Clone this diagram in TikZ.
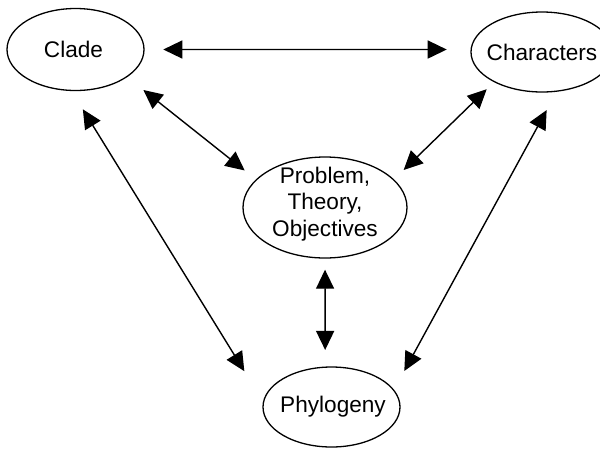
\documentclass[tikz,border=0pt]{standalone}
\usepackage{fontspec}
\setmainfont{Liberation Sans}
\usetikzlibrary{shapes.geometric,arrows.meta}
\begin{document}
\begin{tikzpicture}[x=1pt,y=-1pt,
  blob/.style={draw, ellipse, line width=1.3pt, inner sep=0pt, outer sep=0pt},
  txt/.style={font=\fontsize{22.6}{26.8}\selectfont, inner sep=0pt, align=center},
  link/.style={{Triangle[length=19pt,width=18pt]}-{Triangle[length=19pt,width=18pt]}, line width=1.4pt},
]
\useasboundingbox (0,0) rectangle (600,448);

% the four topics
\node[blob, minimum width=137pt, minimum height=82pt,
      label={[txt, xshift=-2pt]center:Clade}] (clade) at (75.5,49.5) {};
\node[blob, minimum width=142pt, minimum height=80pt,
      label={[txt]center:Characters}] (chars) at (542,52) {};
\node[blob, minimum width=164pt, minimum height=101pt,
      label={[txt, yshift=3.5pt]center:{Problem,\\Theory,\\Objectives}}] (prob) at (325,207.5) {};
\node[blob, minimum width=137pt, minimum height=80pt,
      label={[txt, xshift=1.5pt]center:Phylogeny}] (phylo) at (331.5,407) {};

% two-way links
\draw[link, shorten <=19.3pt, shorten >=24.4pt] (clade.east) -- (chars.178);
\draw[link, shorten <=21.3pt, shorten >=15pt] (clade.-28) -- (prob.158);
\draw[link, shorten <=10.8pt, shorten >=14.1pt] (chars.-148) -- (prob.22);
\draw[link, shorten <=22.2pt, shorten >=36.5pt] (clade.-96) -- (phylo.176);
\draw[link, shorten <=21.6pt, shorten >=22pt] (chars.-69) -- (phylo.15);
\draw[link, shorten <=11.7pt, shorten >=17.2pt] (prob.south) -- (phylo.99.3);
\end{tikzpicture}
\end{document}
